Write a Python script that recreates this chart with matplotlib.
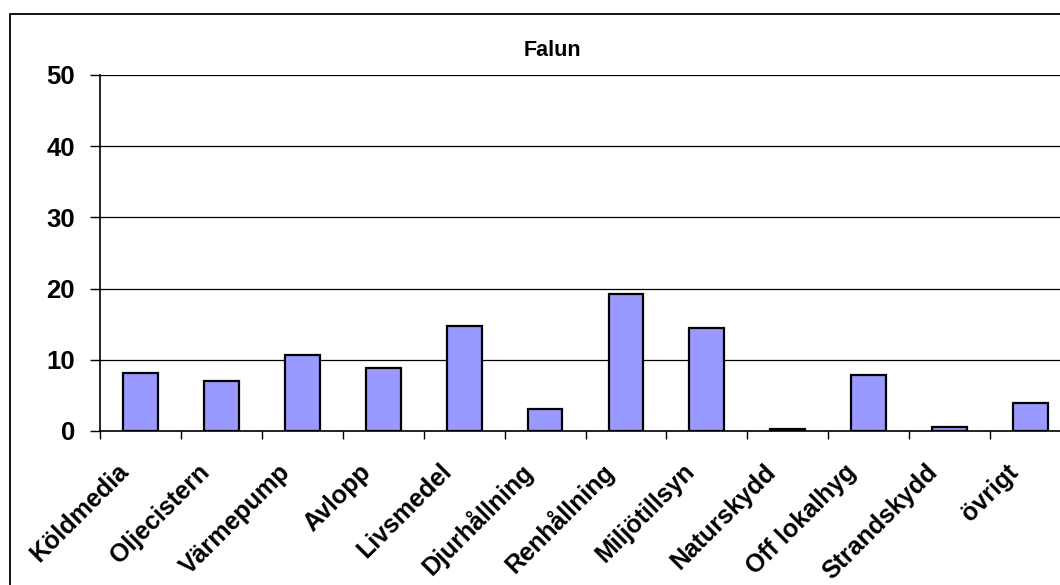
import matplotlib
matplotlib.use('Agg')
import matplotlib.pyplot as plt
import matplotlib.transforms as mtransforms
from matplotlib.patches import Rectangle
import numpy as np

plt.rcParams['font.family'] = ['Liberation Sans', 'DejaVu Sans']
plt.rcParams['font.weight'] = 'bold'

'''data read off the Falun chart'''
categories = ['Köldmedia', 'Oljecistern', 'Värmepump', 'Avlopp', 'Livsmedel',
              'Djurhållning', 'Renhållning', 'Miljötillsyn', 'Naturskydd',
              'Off lokalhyg', 'Strandskydd', 'övrigt']
values = [8.2, 7.0, 10.7, 8.8, 14.8, 3.1, 19.2, 14.5, 0.3, 7.8, 0.6, 4.0]
yticks = [0, 10, 20, 30, 40, 50]

W, H = 1060, 585
fig = plt.figure(figsize=(W / 100, H / 100), dpi=100)

# outer chart border (cut off on the right and bottom like the original)
fig.patches.append(Rectangle((10 / W, -0.5), 2.0, 1.5 - 14 / H, transform=fig.transFigure,
                             fill=False, edgecolor='black', linewidth=1.3))

ax = fig.add_axes([100 / W, 1 - 431 / H, 971 / W, (431 - 75) / H])
x = np.arange(len(categories))
ax.bar(x, values, width=0.43, color='#9999FF', edgecolor='black', linewidth=1.6, zorder=3)

ax.set_xlim(-0.5, len(categories) - 0.5)
ax.set_ylim(0, 50)
ax.set_yticks(yticks)
ax.set_yticklabels([str(v) for v in yticks], fontsize=18.5, fontweight='bold')
ax.yaxis.grid(True, color='black', linewidth=0.9, zorder=0)
ax.tick_params(axis='y', direction='out', length=7, width=1, pad=11)

# tick marks on category borders, labels at centres
ax.set_xticks(np.arange(len(categories) + 1) - 0.5, minor=True)
ax.set_xticks(x)
ax.set_xticklabels(categories, rotation=45, ha='right', va='center',
                   rotation_mode='anchor', fontsize=18, fontweight='bold')
ax.tick_params(axis='x', which='major', length=0, pad=0)
ax.tick_params(axis='x', which='minor', direction='out', length=6, width=1)

offset = mtransforms.ScaledTranslation(-16 / 100, -37 / 100, fig.dpi_scale_trans)
for lbl in ax.get_xticklabels():
    lbl.set_transform(lbl.get_transform() + offset)

for s in ['top', 'right']:
    ax.spines[s].set_visible(False)
ax.spines['left'].set_linewidth(1.2)
ax.spines['bottom'].set_linewidth(1.2)

fig.text(552 / W, 1 - 50 / H, 'Falun', ha='center', va='center', fontsize=15.5, fontweight='bold')

fig.savefig('out.png', dpi=100)
